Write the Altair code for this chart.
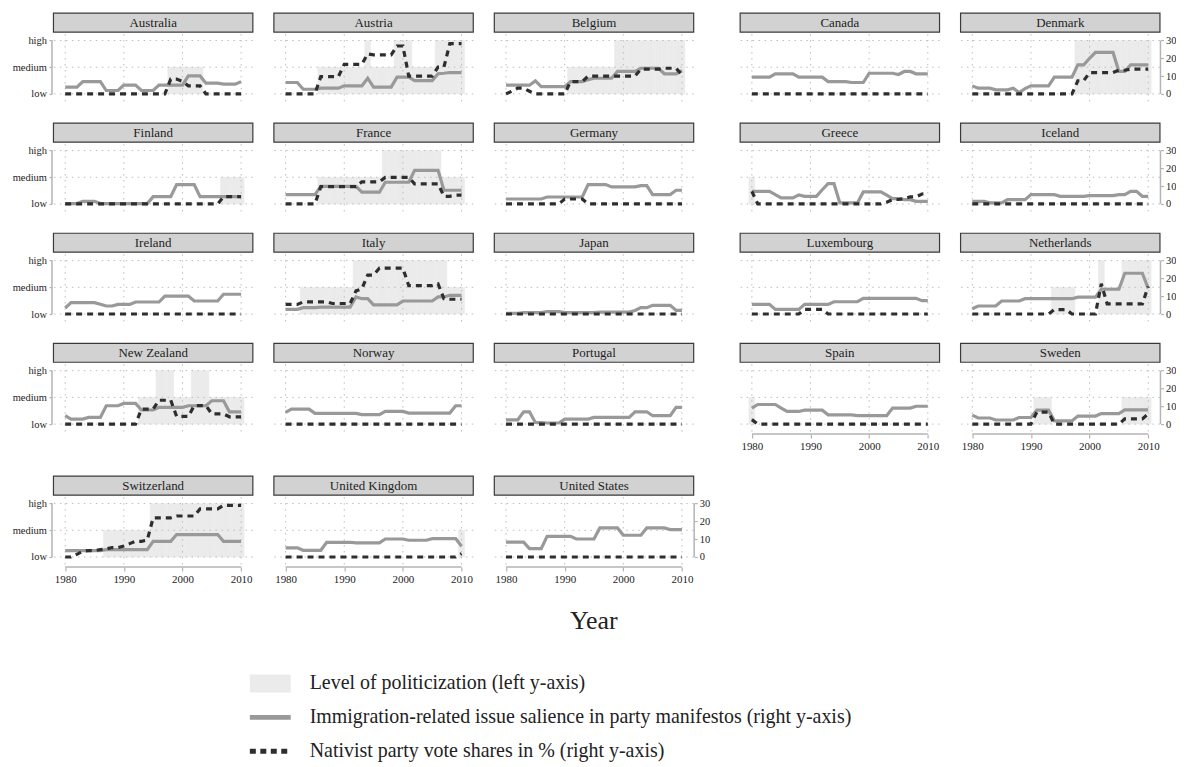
import altair as alt
import pandas as pd

# ---------------------------------------------------------------- data
YEARS = list(range(1980, 2011))
YEAR_TICKS = [1980, 1990, 2000, 2010]
LEVEL_TICKS = [0, 15, 30]
LEVEL_NAMES = ["low", "medium", "high"]
SHARE_TICKS = [0, 10, 20, 30]

# politicization codes: 0 = low, 1 = medium, 2 = high
AUSTRALIA_SAL = [3.8,3.8,3.8,6.9,6.9,6.9,6.9,1.9,1.9,1.9, 4.9,4.9,4.9,1.9,1.9,1.9,4.9,4.9,4.9,4.9, 4.9,10.1,10.1,10.1,6.0,6.0,6.0,5.5,5.5,5.5, 6.9]
AUSTRALIA_VOTE = [0,0,0,0,0,0,0,0,0,0, 0,0,0,0,0,0,0,0,8.3,8.3, 7.0,4.5,4.5,4.5,0,0,0,0,0,0, 0]
AUSTRALIA_POL = [0,0,0,0,0,0,0,0,0,0, 0,0,0,0,0,0,0,0,1,1, 1,1,1,1,0,0,0,0,0,0, 0]

AUSTRIA_SAL = [6.4,6.4,6.4,2.6,2.6,2.6,3.2,3.2,3.2,3.2, 4.5,4.5,4.5,4.5,8.8,3.8,3.8,3.8,3.8,9.4, 9.4,9.4,7.5,7.5,7.5,7.5,11.3,11.6,12.0,12.0, 12.0]
AUSTRIA_VOTE = [0,0,0,0,0,0,9.7,9.7,9.7,9.7, 16.6,16.6,16.6,16.6,22.5,21.9,21.9,21.9,21.9,26.9, 26.9,10.0,10.0,10.0,10.0,10.0,15.1,15.1,28.2,28.2, 28.2]
AUSTRIA_POL = [0,0,0,0,0,0,1,1,1,1, 1,1,1,1,2,1,1,1,1,2, 2,2,1,1,1,1,2,2,2,2, 2]

BELGIUM_SAL = [4.9,4.9,4.9,4.9,4.9,7.3,4.1,4.1,4.1,4.1, 4.1,6.9,6.9,6.9,8.0,8.8,8.8,8.8,8.8,12.6, 12.6,12.6,12.6,14.4,14.4,14.4,14.4,11.3,11.3,11.3, 13.0]
BELGIUM_VOTE = [0,1.5,3.2,3.2,1.5,0,0,0,0,0, 0,6.9,6.9,6.9,10.0,10.0,10.0,10.0,10.0,10.0, 10.0,10.0,10.0,13.9,13.9,13.9,13.9,14.4,14.4,14.4, 10.7]
BELGIUM_POL = [0,0,0,0,0,0,0,0,0,0, 0,1,1,1,1,1,1,1,1,2, 2,2,2,2,2,2,2,2,2,2, 2]

CANADA_SAL = [9.4,9.4,9.4,9.4,11.3,11.3,11.3,11.3,9.4,9.4, 9.4,9.4,9.4,6.9,6.9,6.9,6.9,6.4,6.4,6.4, 11.6,11.6,11.6,11.6,11.6,10.9,12.6,12.6,11.3,11.3, 11.3]
CANADA_VOTE = [0,0,0,0,0,0,0,0,0,0, 0,0,0,0,0,0,0,0,0,0, 0,0,0,0,0,0,0,0,0,0, 0]
CANADA_POL = [0,0,0,0,0,0,0,0,0,0, 0,0,0,0,0,0,0,0,0,0, 0,0,0,0,0,0,0,0,0,0, 0]

DENMARK_SAL = [4.5,3.2,3.2,3.2,2.25,2.25,2.25,3.2,0.75,3.0, 4.5,4.5,4.5,4.5,9.4,9.4,9.4,9.4,16.3,16.3, 20.0,23.3,23.3,23.3,23.3,12.6,12.6,16.3,16.3,16.3, 16.3]
DENMARK_VOTE = [0,0,0,0,0,0,0,0,0,0, 0,0,0,0,0,0,0,0,7.4,7.4, 12.0,12.0,12.0,12.0,12.0,13.3,13.3,13.9,13.9,13.9, 13.9]
DENMARK_POL = [0,0,0,0,0,0,0,0,0,0, 0,0,0,0,0,0,0,0,2,2, 2,2,2,2,2,2,2,2,2,2, 2]

FINLAND_SAL = [0.2,0.2,0.2,1.5,1.5,1.5,0.2,0.2,0.2,0.2, 0.2,0.2,0.2,0.2,0.2,4.1,4.1,4.1,4.1,10.9, 10.9,10.9,10.9,4.1,4.1,4.1,4.1,4.1,4.1,4.1, 4.1]
FINLAND_VOTE = [0,0,0,0,0,0,0,0,0,0, 0,0,0,0,0,0,0,0,0,0, 0,0,0,0,0,0,0,4.1,4.1,4.1, 4.1]
FINLAND_POL = [0,0,0,0,0,0,0,0,0,0, 0,0,0,0,0,0,0,0,0,0, 0,0,0,0,0,0,0,1,1,1, 1]

FRANCE_SAL = [5.25,5.25,5.25,5.25,5.25,5.25,9.9,9.9,9.9,9.9, 9.9,9.9,9.9,6.6,6.6,6.6,6.6,12.2,12.2,12.2, 12.2,12.2,18.9,18.9,18.9,18.9,18.9,7.7,7.7,7.7, 7.7]
FRANCE_VOTE = [0,0,0,0,0,0,9.7,9.7,9.7,9.7, 9.7,9.7,9.7,12.4,12.4,12.4,12.4,14.9,14.9,14.9, 14.9,14.9,11.3,11.3,11.3,11.3,11.3,4.3,4.3,5.0, 5.0]
FRANCE_POL = [0,0,0,0,0,0,1,1,1,1, 1,1,1,1,1,1,1,2,2,2, 2,2,2,2,2,2,2,1,1,1, 1]

GERMANY_SAL = [2.8,2.8,2.8,2.8,2.8,2.8,2.8,3.9,3.9,3.9, 3.9,3.9,3.9,3.9,10.9,10.9,10.9,10.9,9.6,9.6, 9.6,9.6,9.6,10.3,10.3,5.25,5.25,5.25,5.25,7.7, 7.7]
GERMANY_VOTE = [0,0,0,0,0,0,0,0,0,0, 2.8,2.8,2.8,2.8,0,0,0,0,0,0, 0,0,0,0,0,0,0,0,0,0, 0]
GERMANY_POL = [0,0,0,0,0,0,0,0,0,0, 0,0,0,0,0,0,0,0,0,0, 0,0,0,0,0,0,0,0,0,0, 0]

GREECE_SAL = [7.1,7.1,7.1,7.1,5.2,3.4,3.4,3.4,5.1,4.3, 4.3,4.3,8.0,11.4,11.4,0.6,0.6,0.6,0.6,6.75, 6.75,6.75,6.75,5.0,3.0,3.0,2.4,2.4,1.5,1.5, 1.5]
GREECE_VOTE = [7.1,0,0,0,0,0,0,0,0,0, 0,0,0,0,0,0,0,0,0,0, 0,0,0,1.0,2.5,2.5,3.0,4.0,4.0,5.6, 6.0]
GREECE_POL = [1,0,0,0,0,0,0,0,0,0, 0,0,0,0,0,0,0,0,0,0, 0,0,0,0,0,0,0,0,0,0, 0]

ICELAND_SAL = [1.5,1.5,1.5,0.6,0.6,0.6,2.4,2.4,2.4,2.4, 5.25,5.25,5.25,5.25,5.25,4.3,4.3,4.3,4.3,4.3, 4.7,4.7,4.7,4.7,4.7,5.25,5.25,7.1,7.1,4.3, 4.3]
ICELAND_VOTE = [0,0,0,0,0,0,0,0,0,0, 0,0,0,0,0,0,0,0,0,0, 0,0,0,0,0,0,0,0,0,0, 0]
ICELAND_POL = [0,0,0,0,0,0,0,0,0,0, 0,0,0,0,0,0,0,0,0,0, 0,0,0,0,0,0,0,0,0,0, 0]

IRELAND_SAL = [3.4,6.4,6.4,6.4,6.4,6.4,5.5,4.5,4.5,5.4, 5.4,5.4,6.75,6.75,6.75,6.75,6.75,10.1,10.1,10.1, 10.1,10.1,7.3,7.3,7.3,7.3,7.3,11.1,11.1,11.1, 11.1]
IRELAND_VOTE = [0,0,0,0,0,0,0,0,0,0, 0,0,0,0,0,0,0,0,0,0, 0,0,0,0,0,0,0,0,0,0, 0]
IRELAND_POL = [0,0,0,0,0,0,0,0,0,0, 0,0,0,0,0,0,0,0,0,0, 0,0,0,0,0,0,0,0,0,0, 0]

ITALY_SAL = [2.6,2.6,2.6,3.6,3.6,3.6,3.9,3.9,3.9,3.9, 3.9,3.9,9.6,8.6,8.6,5.1,5.1,5.1,5.1,5.1, 7.3,7.3,7.3,7.3,7.3,7.3,9.6,9.6,10.5,10.5, 10.5]
ITALY_VOTE = [5.4,5.4,5.4,6.8,6.8,6.8,6.8,6.8,5.9,5.9, 5.9,5.9,13.0,14.1,21.9,21.9,25.8,25.8,25.8,25.8, 25.8,15.9,15.9,15.9,15.9,15.9,16.9,8.6,8.3,8.3, 8.3]
ITALY_POL = [0,0,0,1,1,1,1,1,1,1, 1,1,2,2,2,2,2,2,2,2, 2,2,2,2,2,2,2,2,1,1, 1]

JAPAN_SAL = [0.4,0.4,0.4,0.75,0.75,0.75,0.75,1.3,1.3,1.3, 0.75,0.75,0.75,0.75,0.75,0.75,1.1,1.1,1.1,1.1, 1.1,1.1,2.0,3.6,3.6,4.9,4.9,4.9,4.9,2.0, 2.0]
JAPAN_VOTE = [0,0,0,0,0,0,0,0,0,0, 0,0,0,0,0,0,0,0,0,0, 0,0,0,0,0,0,0,0,0,0, 0]
JAPAN_POL = [0,0,0,0,0,0,0,0,0,0, 0,0,0,0,0,0,0,0,0,0, 0,0,0,0,0,0,0,0,0,0, 0]

LUXEMBOURG_SAL = [5.4,5.4,5.4,5.4,2.6,2.6,2.6,2.6,2.6,5.4, 5.4,5.4,5.4,5.4,6.9,6.9,6.9,6.9,6.9,8.8, 8.8,8.8,8.8,8.8,8.8,8.8,8.8,8.8,8.8,7.5, 7.5]
LUXEMBOURG_VOTE = [0,0,0,0,0,0,0,0,0,2.6, 2.6,2.6,2.6,0,0,0,0,0,0,0, 0,0,0,0,0,0,0,0,0,0, 0]
LUXEMBOURG_POL = [0,0,0,0,0,0,0,0,0,0, 0,0,0,0,0,0,0,0,0,0, 0,0,0,0,0,0,0,0,0,0, 0]

NETHERLANDS_SAL = [3.0,4.5,4.5,4.5,4.5,7.3,7.3,7.3,7.3,8.6, 8.6,8.6,8.6,8.6,8.6,8.6,8.6,8.6,9.5,9.5, 9.5,9.5,13.9,13.9,13.9,13.9,22.9,22.9,22.9,22.9, 14.4]
NETHERLANDS_VOTE = [0,0,0,0,0,0,0,0,0,0, 0,0,0,0,2.5,2.5,2.5,0,0,0, 0,0,17.0,5.7,5.7,5.7,5.7,5.7,5.7,5.7, 15.5]
NETHERLANDS_POL = [0,0,0,0,0,0,0,0,0,0, 0,0,0,0,1,1,1,1,0,0, 0,0,2,1,1,1,2,2,2,2, 2]

NEWZEALAND_SAL = [4.7,2.8,2.8,2.8,3.75,3.75,3.75,10.3,10.3,10.3, 11.6,11.6,11.6,7.9,7.9,7.9,9.4,9.4,9.4,9.4, 9.4,10.3,10.3,10.3,10.3,13.1,13.1,13.1,6.9,6.9, 6.9]
NEWZEALAND_VOTE = [0,0,0,0,0,0,0,0,0,0, 0,0,0,8.4,8.4,8.4,13.4,13.4,13.4,4.3, 4.3,4.3,10.4,10.4,10.4,5.7,5.7,5.7,4.1,4.1, 4.1]
NEWZEALAND_POL = [0,0,0,0,0,0,0,0,0,0, 0,0,0,1,1,1,2,2,2,1, 1,1,2,2,2,1,1,1,1,1, 1]

NORWAY_SAL = [6.6,8.4,8.4,8.4,8.4,6.0,6.0,6.0,6.0,6.0, 6.0,6.0,6.0,5.3,5.3,5.3,5.3,7.1,7.1,7.1, 7.1,6.2,6.2,6.2,6.2,6.2,6.2,6.2,6.2,10.3, 10.3]
NORWAY_VOTE = [0,0,0,0,0,0,0,0,0,0, 0,0,0,0,0,0,0,0,0,0, 0,0,0,0,0,0,0,0,0,0, 0]
NORWAY_POL = [0,0,0,0,0,0,0,0,0,0, 0,0,0,0,0,0,0,0,0,0, 0,0,0,0,0,0,0,0,0,0, 0]

PORTUGAL_SAL = [2.4,2.4,2.4,6.9,6.9,0.9,0.9,0.6,0.6,0.6, 2.8,2.8,2.8,2.8,2.8,3.75,3.75,3.75,3.75,3.75, 3.75,3.75,6.9,6.9,6.9,4.7,4.7,4.7,4.7,9.4, 9.4]
PORTUGAL_VOTE = [0,0,0,0,0,0,0,0,0,0, 0,0,0,0,0,0,0,0,0,0, 0,0,0,0,0,0,0,0,0,0, 0]
PORTUGAL_POL = [0,0,0,0,0,0,0,0,0,0, 0,0,0,0,0,0,0,0,0,0, 0,0,0,0,0,0,0,0,0,0, 0]

SPAIN_SAL = [9.0,11.0,11.0,11.0,11.0,9.0,7.1,7.1,7.1,7.8, 7.8,7.8,7.8,5.2,5.2,5.2,5.2,5.2,4.8,4.8, 4.8,4.8,4.8,4.8,9.0,9.0,9.0,9.0,10.0,10.0, 10.0]
SPAIN_VOTE = [2.5,0,0,0,0,0,0,0,0,0, 0,0,0,0,0,0,0,0,0,0, 0,0,0,0,0,0,0,0,0,0, 0]
SPAIN_POL = [1,0,0,0,0,0,0,0,0,0, 0,0,0,0,0,0,0,0,0,0, 0,0,0,0,0,0,0,0,0,0, 0]

SWEDEN_SAL = [5.0,3.4,3.4,3.4,2.3,2.3,2.3,2.3,3.7,3.7, 3.7,7.8,7.8,7.8,1.8,1.8,1.8,1.8,4.5,4.5, 4.5,4.5,5.9,5.9,5.9,5.9,8.0,8.0,8.0,8.0, 8.0]
SWEDEN_VOTE = [0,0,0,0,0,0,0,0,0,0, 0,6.7,6.7,6.7,0,0,0,0,0,0, 0,0,0,0,0,0,2.9,2.9,2.9,2.9, 5.7]
SWEDEN_POL = [0,0,0,0,0,0,0,0,0,0, 0,1,1,1,0,0,0,0,0,0, 0,0,0,0,0,0,1,1,1,1, 1]

SWITZERLAND_SAL = [3.6,3.6,3.6,3.6,3.6,3.6,3.6,4.1,4.1,4.1, 4.1,4.1,4.1,4.1,4.1,8.8,8.8,8.8,8.8,12.6, 12.6,12.6,12.6,12.6,12.6,12.6,12.6,8.8,8.8,8.8, 8.8]
SWITZERLAND_VOTE = [0,0,1.5,3.2,3.6,3.6,4.1,4.5,5.3,5.3, 6.2,7.5,8.8,8.8,9.5,22.0,22.0,22.0,22.0,23.0, 23.0,23.0,23.0,27.0,27.0,27.0,27.0,29.0,29.0,29.0, 29.0]
SWITZERLAND_POL = [0,0,0,0,0,0,0,1,1,1, 1,1,1,1,1,2,2,2,2,2, 2,2,2,2,2,2,2,2,2,2, 2]

UK_SAL = [5.1,5.1,5.1,3.75,3.75,3.75,3.75,8.25,8.25,8.25, 8.25,8.25,7.9,7.9,7.9,7.9,7.9,10.1,10.1,10.1, 10.1,9.4,9.4,9.4,9.4,10.3,10.3,10.3,10.3,10.3, 6.0]
UK_VOTE = [0,0,0,0,0,0,0,0,0,0, 0,0,0,0,0,0,0,0,0,0, 0,0,0,0,0,0,0,0,0,0, 1.9]
UK_POL = [0,0,0,0,0,0,0,0,0,0, 0,0,0,0,0,0,0,0,0,0, 0,0,0,0,0,0,0,0,0,0, 1]

US_SAL = [8.3,8.3,8.3,8.3,4.7,4.7,4.7,11.6,11.6,11.6, 11.6,11.6,10.1,10.1,10.1,10.1,16.3,16.3,16.3,16.3, 12.2,12.2,12.2,12.2,16.3,16.3,16.3,16.3,15.4,15.4, 15.4]
US_VOTE = [0,0,0,0,0,0,0,0,0,0, 0,0,0,0,0,0,0,0,0,0, 0,0,0,0,0,0,0,0,0,0, 0]
US_POL = [0,0,0,0,0,0,0,0,0,0, 0,0,0,0,0,0,0,0,0,0, 0,0,0,0,0,0,0,0,0,0, 0]

LEGEND_LABELS = [
    "Level of politicization (left y-axis)",
    "Immigration-related issue salience in party manifestos (right y-axis)",
    "Nativist party vote shares in % (right y-axis)",
]
X_TITLE = "Year"

SERIES = {
    "Australia": (AUSTRALIA_SAL, AUSTRALIA_VOTE, AUSTRALIA_POL),
    "Austria": (AUSTRIA_SAL, AUSTRIA_VOTE, AUSTRIA_POL),
    "Belgium": (BELGIUM_SAL, BELGIUM_VOTE, BELGIUM_POL),
    "Canada": (CANADA_SAL, CANADA_VOTE, CANADA_POL),
    "Denmark": (DENMARK_SAL, DENMARK_VOTE, DENMARK_POL),
    "Finland": (FINLAND_SAL, FINLAND_VOTE, FINLAND_POL),
    "France": (FRANCE_SAL, FRANCE_VOTE, FRANCE_POL),
    "Germany": (GERMANY_SAL, GERMANY_VOTE, GERMANY_POL),
    "Greece": (GREECE_SAL, GREECE_VOTE, GREECE_POL),
    "Iceland": (ICELAND_SAL, ICELAND_VOTE, ICELAND_POL),
    "Ireland": (IRELAND_SAL, IRELAND_VOTE, IRELAND_POL),
    "Italy": (ITALY_SAL, ITALY_VOTE, ITALY_POL),
    "Japan": (JAPAN_SAL, JAPAN_VOTE, JAPAN_POL),
    "Luxembourg": (LUXEMBOURG_SAL, LUXEMBOURG_VOTE, LUXEMBOURG_POL),
    "Netherlands": (NETHERLANDS_SAL, NETHERLANDS_VOTE, NETHERLANDS_POL),
    "New Zealand": (NEWZEALAND_SAL, NEWZEALAND_VOTE, NEWZEALAND_POL),
    "Norway": (NORWAY_SAL, NORWAY_VOTE, NORWAY_POL),
    "Portugal": (PORTUGAL_SAL, PORTUGAL_VOTE, PORTUGAL_POL),
    "Spain": (SPAIN_SAL, SPAIN_VOTE, SPAIN_POL),
    "Sweden": (SWEDEN_SAL, SWEDEN_VOTE, SWEDEN_POL),
    "Switzerland": (SWITZERLAND_SAL, SWITZERLAND_VOTE, SWITZERLAND_POL),
    "United Kingdom": (UK_SAL, UK_VOTE, UK_POL),
    "United States": (US_SAL, US_VOTE, US_POL),
}

# ---------------------------------------------------------------- style
FONT = "Liberation Serif"
W, H = 200, 70
HEAD_TOP, HEAD_BOTTOM = -21, -2
X_DOMAIN = [1978, 2012]
Y_DOMAIN = [-5.6, 33.6]
AXIS_GREY = "#b4b4b4"
GRID_GREY = "#bdbdbd"
SHADE = "#ebebeb"
SAL_COLOR = "#999999"
VOTE_COLOR = "#2e2e2e"

XS = alt.Scale(domain=X_DOMAIN, nice=False, zero=False)
YS = alt.Scale(domain=Y_DOMAIN, nice=False, zero=False)

LEVEL_EXPR = "datum.value == {0} ? '{3}' : datum.value == {1} ? '{4}' : '{5}'".format(
    LEVEL_TICKS[0], LEVEL_TICKS[1], LEVEL_TICKS[2], *LEVEL_NAMES)


def axis_common(size):
    return dict(grid=False, domain=False, ticks=True, tickColor=AXIS_GREY,
                tickWidth=1.2, labelFont=FONT, labelFontSize=size, labelColor="#222222",
                labelFlush=False, title=None)


def make_panel(name, left=False, right=False, bottom=False):
    sal, vote, pol = SERIES[name]
    df = pd.DataFrame({"year": YEARS, "sal": sal, "vote": vote, "pol": pol})

    if left:
        yaxis = alt.Axis(values=LEVEL_TICKS, labelExpr=LEVEL_EXPR, orient="left",
                         offset=1.5, tickSize=3, labelPadding=2.5, **axis_common(10.5))
    elif right:
        yaxis = alt.Axis(values=SHARE_TICKS, orient="right", offset=0.5,
                         tickSize=3, labelPadding=2, **axis_common(10.5))
    else:
        yaxis = None
    xaxis = (alt.Axis(values=YEAR_TICKS, format="d", orient="bottom", tickSize=4,
                      labelPadding=3, **axis_common(11)) if bottom else None)

    def X(field):
        return alt.X(field, scale=XS, axis=xaxis, title=None)

    def Y(field):
        return alt.Y(field, scale=YS, axis=yaxis, title=None)

    shade = (alt.Chart(df)
             .transform_filter("datum.pol > 0")
             .transform_calculate(x0="datum.year - 0.5", x1="datum.year + 0.5",
                                  top="datum.pol * 15", base="0")
             .mark_rect(color=SHADE, stroke=SHADE, strokeWidth=0.6)
             .encode(x=X("x0:Q"), x2="x1:Q", y=Y("top:Q"), y2="base:Q"))
    hgrid = (alt.Chart(pd.DataFrame({"v": LEVEL_TICKS}))
             .mark_rule(color=GRID_GREY, strokeWidth=1, strokeDash=[1.5, 4.5])
             .encode(y=Y("v:Q")))
    vgrid = (alt.Chart(pd.DataFrame({"yr": YEAR_TICKS}))
             .mark_rule(color=GRID_GREY, strokeWidth=1, strokeDash=[1.5, 4.5])
             .encode(x=X("yr:Q")))
    sal_line = (alt.Chart(df)
                .mark_line(color=SAL_COLOR, strokeWidth=3.2, strokeJoin="miter")
                .encode(x=X("year:Q"), y=Y("sal:Q")))
    vote_line = (alt.Chart(df)
                 .mark_line(color=VOTE_COLOR, strokeWidth=3.2, strokeDash=[6, 5],
                            strokeCap="butt")
                 .encode(x=X("year:Q"), y=Y("vote:Q")))

    name_df = pd.DataFrame({"name": [name]})
    head_box = (alt.Chart(name_df)
                .mark_rect(fill="#d2d2d2", stroke="#3a3a3a", strokeWidth=1.2)
                .encode(x=alt.value(0), x2=alt.value(W),
                        y=alt.value(HEAD_TOP), y2=alt.value(HEAD_BOTTOM)))
    head_text = (alt.Chart(name_df)
                 .mark_text(font=FONT, fontSize=13, color="#1e1e1e", baseline="middle")
                 .encode(text="name:N", x=alt.value(W / 2),
                         y=alt.value((HEAD_TOP + HEAD_BOTTOM) / 2 + 0.5)))

    layers = [shade, hgrid, vgrid, sal_line, vote_line, head_box, head_text]

    if left:
        span_y = pd.DataFrame({"lo": [LEVEL_TICKS[0]], "hi": [LEVEL_TICKS[-1]]})
        layers.append(alt.Chart(span_y).mark_rule(color=AXIS_GREY, strokeWidth=1.5)
                      .encode(x=alt.value(-1.5), y=Y("lo:Q"), y2="hi:Q"))
    if right:
        span_r = pd.DataFrame({"lo": [SHARE_TICKS[0]], "hi": [SHARE_TICKS[-1]]})
        layers.append(alt.Chart(span_r).mark_rule(color=AXIS_GREY, strokeWidth=1.5)
                      .encode(x=alt.value(W + 0.5), y=Y("lo:Q"), y2="hi:Q"))
    if bottom:
        span_x = pd.DataFrame({"lo": [YEAR_TICKS[0]], "hi": [YEAR_TICKS[-1]]})
        layers.append(alt.Chart(span_x).mark_rule(color=AXIS_GREY, strokeWidth=1.5)
                      .encode(y=alt.value(H), x=X("lo:Q"), x2="hi:Q"))

    return alt.layer(*layers).properties(width=W, height=H)


def make_row(specs, full=True):
    panels = [make_panel(*s) for s in specs]
    left_group = alt.hconcat(*panels[:3], spacing=19.1)
    if not full:
        return left_group
    right_group = alt.hconcat(*panels[3:], spacing=19.1)
    return alt.hconcat(left_group, right_group, spacing=44.8)


row1 = make_row([("Australia", True), ("Austria",), ("Belgium",), ("Canada",),
                 ("Denmark", False, True)])
row2 = make_row([("Finland", True), ("France",), ("Germany",), ("Greece",),
                 ("Iceland", False, True)])
row3 = make_row([("Ireland", True), ("Italy",), ("Japan",), ("Luxembourg",),
                 ("Netherlands", False, True)])
row4 = make_row([("New Zealand", True), ("Norway",), ("Portugal",),
                 ("Spain", False, False, True), ("Sweden", False, True, True)])
row5 = make_row([("Switzerland", True, False, True), ("United Kingdom", False, False, True),
                 ("United States", False, True, True)], full=False)

# ---------------------------------------------------------------- legend
leg_df = pd.DataFrame({"label": LEGEND_LABELS})
ly = alt.Y("label:N", axis=None,
           scale=alt.Scale(type="point", domain=LEGEND_LABELS, range=[75, 143], padding=0))
sw_shade = (alt.Chart(leg_df).transform_filter(alt.datum.label == LEGEND_LABELS[0])
            .mark_rule(color=SHADE, strokeWidth=18, strokeCap="butt")
            .encode(x=alt.value(197), x2=alt.value(238), y=ly))
sw_sal = (alt.Chart(leg_df).transform_filter(alt.datum.label == LEGEND_LABELS[1])
          .mark_rule(color=SAL_COLOR, strokeWidth=5, strokeCap="butt")
          .encode(x=alt.value(197), x2=alt.value(238), y=ly))
sw_vote = (alt.Chart(leg_df).transform_filter(alt.datum.label == LEGEND_LABELS[2])
           .mark_rule(color=VOTE_COLOR, strokeWidth=5, strokeDash=[6, 4.5], strokeCap="butt")
           .encode(x=alt.value(197), x2=alt.value(238), y=ly))
leg_text = (alt.Chart(leg_df)
            .mark_text(align="left", baseline="middle", font=FONT, fontSize=20, color="#222222")
            .encode(x=alt.value(257), y=ly, text="label:N"))
year_text = (alt.Chart(pd.DataFrame({"t": [X_TITLE]}))
             .mark_text(align="center", baseline="middle", font=FONT, fontSize=26,
                        color="#222222")
             .encode(x=alt.value(542), y=alt.value(12), text="t:N"))
legend = alt.layer(sw_shade, sw_sal, sw_vote, leg_text, year_text).properties(
    width=1080, height=150)

rows14 = alt.vconcat(row1, row2, row3, row4, spacing=17.4)
grid = alt.vconcat(rows14, row5, spacing=22.5)
chart = (alt.vconcat(grid, legend, spacing=22.4)
         .properties(padding={"left": 3.6, "top": 3, "right": 0, "bottom": 0})
         .configure(font=FONT)
         .configure_view(stroke=None))

chart.save("out.html", embed_options={"renderer": "svg", "actions": False})
